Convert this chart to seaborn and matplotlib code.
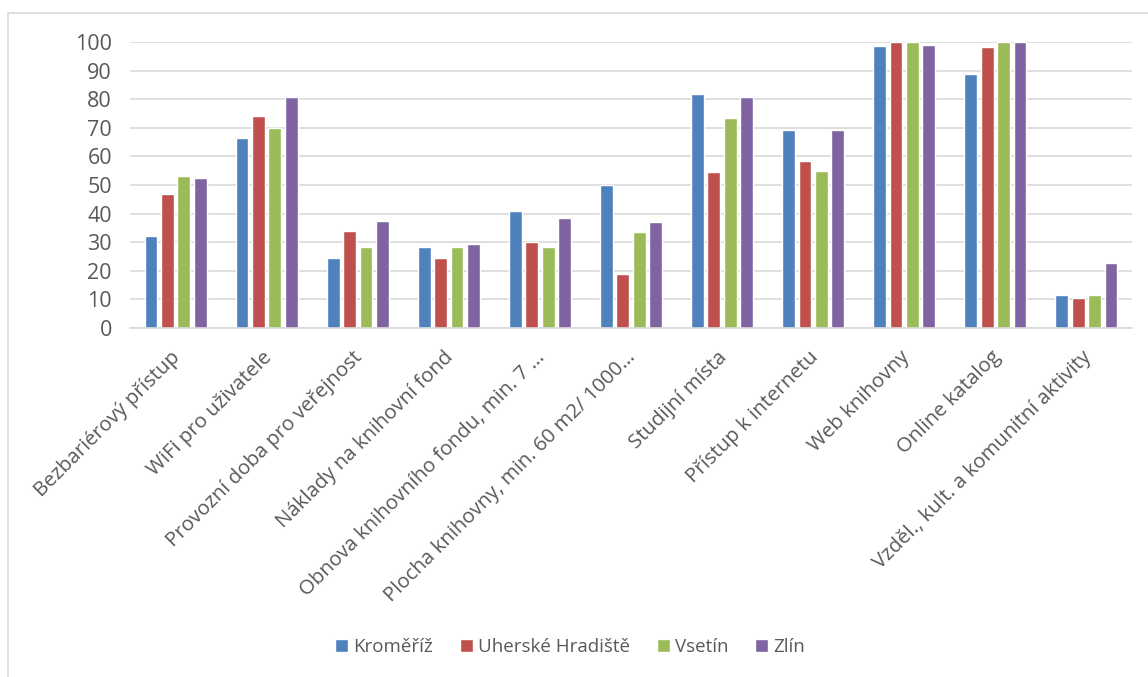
"""Library standards compliance by district - grouped bar chart."""

import matplotlib.pyplot as plt
import matplotlib.transforms as mtransforms
import pandas as pd
import seaborn as sns
from matplotlib.lines import Line2D

categories = [
    "Bezbariérový přístup",
    "WiFi pro uživatele",
    "Provozní doba pro veřejnost",
    "Náklady na knihovní fond",
    "Obnova knihovního fondu, min. 7 …",
    "Plocha knihovny, min. 60 m2/ 1000…",
    "Studijní místa",
    "Přístup k internetu",
    "Web knihovny",
    "Online katalog",
    "Vzděl., kult. a komunitní aktivity",
]
districts = ["Kroměříž", "Uherské Hradiště", "Vsetín", "Zlín"]

kromeriz = [32.0, 66.6, 24.4, 28.2, 40.9, 49.9, 81.9, 69.2, 98.7, 88.8, 11.4]
uherske_hradiste = [46.7, 74.0, 33.8, 24.6, 29.9, 18.9, 54.5, 58.5, 100.0, 98.2, 10.4]
vsetin = [53.3, 70.1, 28.3, 28.3, 28.3, 33.4, 73.4, 55.0, 100.0, 100.0, 11.5]
zlin = [52.3, 80.6, 37.4, 29.5, 38.6, 37.1, 80.6, 69.3, 98.8, 100.0, 22.7]

colors = ["#4F81BD", "#C0504D", "#9BBB59", "#8064A2"]

df = pd.DataFrame({
    "category": categories * 4,
    "district": [d for d in districts for _ in categories],
    "value": kromeriz + uherske_hradiste + vsetin + zlin,
})

sns.set_theme(style="white")
plt.rcParams["font.family"] = ["Open Sans", "DejaVu Sans"]

W, H = 1148, 677
fig = plt.figure(figsize=(W / 100, H / 100), dpi=100)
ax = fig.add_axes([130 / W, 1 - 328 / H, (1132 - 130) / W, (328 - 42) / H])

sns.barplot(
    data=df, x="category", y="value", hue="district",
    palette=colors, width=0.72, gap=0.22, ax=ax,
    errorbar=None, saturation=1, legend=True,
)

ax.set_ylim(0, 100)
ax.set_xlim(-0.5, len(categories) - 0.5)
ax.set_yticks(range(0, 101, 10))
ax.yaxis.grid(True, color="#D9D9D9", linewidth=1.2)
ax.set_axisbelow(True)
for side in ["top", "right", "left"]:
    ax.spines[side].set_visible(False)
ax.spines["bottom"].set_color("#D9D9D9")
ax.spines["bottom"].set_linewidth(1.2)
ax.set_xlabel("")
ax.set_ylabel("")
ax.tick_params(axis="both", length=0, colors="#595959")
ax.tick_params(axis="y", pad=13, labelsize=15.5)
ax.tick_params(axis="x", pad=19, labelsize=14.7)

# nudge rotated labels a little to the right, like the original
shift = mtransforms.ScaledTranslation(2 / 100, 0, fig.dpi_scale_trans)
for lbl in ax.get_xticklabels():
    lbl.set_rotation(45)
    lbl.set_ha("right")
    lbl.set_va("center")
    lbl.set_rotation_mode("anchor")
    lbl.set_transform(lbl.get_transform() + shift)

handles, labels = ax.get_legend_handles_labels()
ax.legend(
    handles, labels, loc="center", bbox_to_anchor=(570 / W, 1 - 647 / H),
    bbox_transform=fig.transFigure, ncol=4, frameon=False,
    fontsize=13.5, handlelength=0.7, handleheight=0.7, handletextpad=0.25,
    columnspacing=1.45, labelcolor="#595959",
)

# chart area border (left and top edges visible)
fig.add_artist(Line2D([8 / W, 8 / W], [0, 1 - 13 / H], color="#D9D9D9",
                      linewidth=1.2, transform=fig.transFigure))
fig.add_artist(Line2D([8 / W, 1], [1 - 13 / H, 1 - 13 / H], color="#D9D9D9",
                      linewidth=1.2, transform=fig.transFigure))

fig.savefig("out.png", dpi=100)
